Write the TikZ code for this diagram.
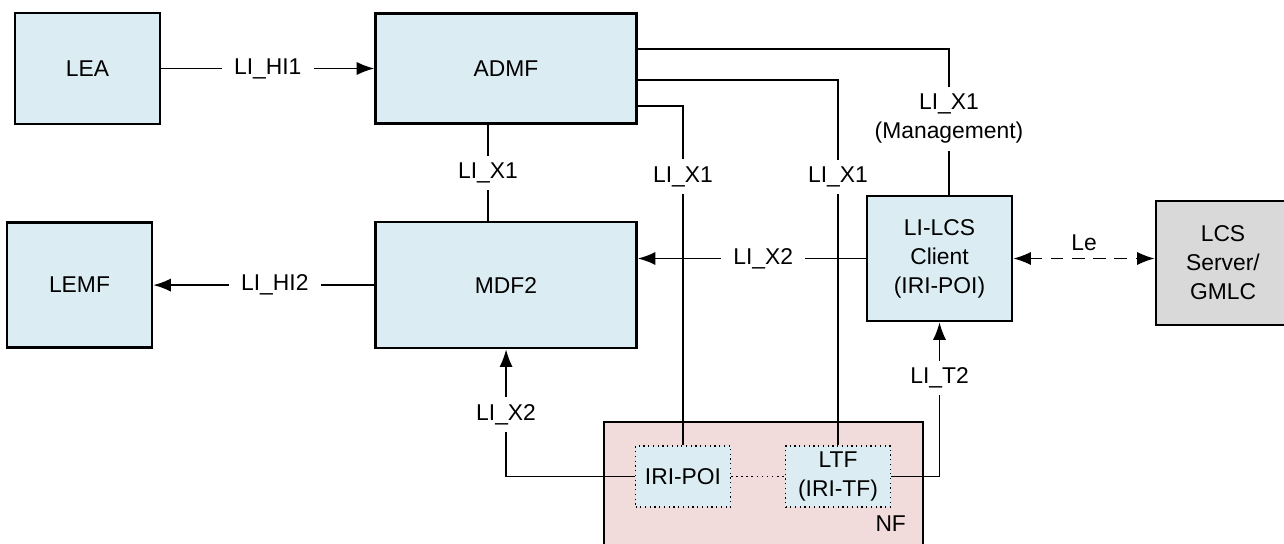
\documentclass[tikz,border=0pt]{standalone}
\usepackage{fontspec}
\setmainfont{Liberation Sans}
\usetikzlibrary{arrows.meta, positioning}
\definecolor{boxblue}{RGB}{219,237,243}
\definecolor{nfpink}{RGB}{242,220,219}
\definecolor{srvgray}{RGB}{217,217,217}
\tikzset{
  func/.style={draw, line width=1.5pt, align=center, fill=boxblue},
  server/.style={func, fill=srvgray},
  nfbox/.style={draw, line width=1.5pt, fill=nfpink, minimum width=6.38cm, minimum height=2.96cm},
  inner/.style={draw, dotted, line width=0.7pt, align=center, fill=boxblue, minimum height=1.22cm},
  link/.style={line width=0.9pt},
  tip/.style={-{Latex[length=10pt, width=7.5pt]}},
  arrow/.style={link, tip},
  lab/.style={fill=white, align=center, inner xsep=7pt, inner ysep=4pt}
}
\begin{document}
\begin{tikzpicture}[x=0.02cm, y=-0.02cm, font=\fontsize{13}{16.5}\selectfont]
  \useasboundingbox (0,0) rectangle (1284,544);
  % Nodes
  \node[func, minimum width=2.9cm, minimum height=2.22cm] (lea) at (87.5,68.5) {LEA};
  \node[func, minimum width=5.22cm, minimum height=2.2cm, right=4.26cm of lea] (admf) {ADMF};
  \node[func, minimum width=5.22cm, minimum height=2.52cm, below=1.92cm of admf] (mdf2) {MDF2};
  \node[func, minimum width=2.9cm, minimum height=2.5cm, left=4.42cm of mdf2] (lemf) {LEMF};
  \node[func, minimum width=2.9cm, minimum height=2.5cm] (client) at (939.5,258.5) {LI-LCS\\Client\\(IRI-POI)};
  \node[server, minimum width=2.68cm, minimum height=2.48cm] (gmlc) at (1223,263) {LCS\\Server/\\GMLC};
  \node[nfbox] (nf) at (763.5,496) {};
  \node[inner, minimum width=1.9cm] (poi) at (683,476.5) {IRI-POI};
  \node[inner, minimum width=2.1cm] (ltf) at (838,476.5) {LTF\\(IRI-TF)};
  \node[anchor=base east, inner sep=0pt] (nflabel) at ([shift={(-18,111)}]nf.north east) {NF};
  \coordinate (x1) at (488,0);
  \coordinate (xm) at (949,0);

  % Arrows
  \draw[arrow] (lea) -- node[lab]{LI\_HI1} (admf);
  \draw[link] (admf.south -| x1) -- node[lab]{LI\_X1} (mdf2.north -| x1);
  \draw[arrow] (mdf2) -- node[lab, pos=0.45]{LI\_HI2} (lemf);
  \draw[arrow] (client.west) -- node[lab, pos=0.45]{LI\_X2} (client.west -| mdf2.east);
  \draw[link, {Latex[length=10pt, width=7.5pt]}-{Latex[length=10pt, width=7.5pt]}, dash pattern=on 7pt off 5pt]
    (client.east) -- node[above, inner sep=4pt]{Le} (client.east -| gmlc.west);
  \draw[link] ([yshift=0.39cm]admf.east) -| node[lab, pos=0.74]{LI\_X1\\(Management)} (client.north -| xm);
  \draw[link] ([yshift=-0.23cm]admf.east) -| node[lab, pos=0.633]{LI\_X1} (ltf.north);
  \draw[link] ([yshift=-0.75cm]admf.east) -| node[lab, pos=0.604]{LI\_X1} (poi.north);
  \draw[arrow] (poi.west) -| node[lab, pos=0.743]{LI\_X2} (mdf2.south);
  \draw[link, dotted] (poi) -- (ltf);
  \draw[arrow] (ltf.east) -| node[lab, pos=0.82]{LI\_T2} (client.south);
\end{tikzpicture}
\end{document}
